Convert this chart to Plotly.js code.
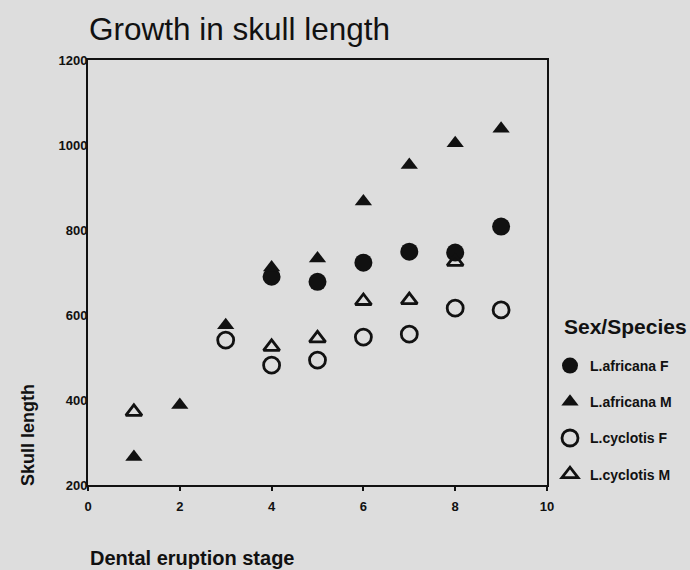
<!DOCTYPE html>
<html>
<head>
<meta charset="utf-8">
<script src="https://cdn.plot.ly/plotly-3.0.1.min.js"></script>
<style>html,body{margin:0;padding:0;background:#dddddd;}#chart{width:690px;height:570px;}</style>
</head>
<body>
<div id="chart"></div>
<script>
// Data
const seriesNames = ["L.africana F", "L.africana M", "L.cyclotis F", "L.cyclotis M"];
const legendTitle = "Sex/Species";

const africanaF_x = [4, 5, 6, 7, 8, 9];
const africanaF_y = [690, 678, 723, 749, 747, 808];

const africanaM_x = [1, 2, 3, 4, 5, 6, 7, 8, 9];
const africanaM_y = [266, 388, 576, 712, 733, 867, 953, 1004, 1038];

const cyclotisF_x = [3, 4, 5, 6, 7, 8, 9];
const cyclotisF_y = [541, 482, 494, 548, 555, 616, 612];

const cyclotisM_x = [1, 4, 5, 6, 7, 8];
const cyclotisM_y = [372, 525, 545, 633, 635, 725];

const xTicks = [0, 2, 4, 6, 8, 10];
const yTicks = [200, 400, 600, 800, 1000, 1200];

const FONT = "Liberation Sans, Arial, sans-serif";

function tr(name, x, y, symbol, size, group) {
  return {
    type: "scatter", mode: "markers", name: name, x: x, y: y,
    legendgroup: group,
    marker: { symbol: symbol, size: size, color: "#111111",
              line: { color: "#111111", width: symbol.indexOf("open") >= 0 ? 2.8 : 0 } },
    cliponaxis: false
  };
}

const data = [
  tr(seriesNames[0], africanaF_x, africanaF_y, "circle", 18, "g1"),
  tr(seriesNames[1], africanaM_x, africanaM_y, "triangle-up", 15, "g2"),
  tr(seriesNames[2], cyclotisF_x, cyclotisF_y, "circle-open", 16, "g3"),
  tr(seriesNames[3], cyclotisM_x, cyclotisM_y, "triangle-up-open", 14, "g4")
];

const layout = {
  width: 690, height: 570,
  paper_bgcolor: "#dddddd", plot_bgcolor: "#dddddd",
  margin: { l: 88, r: 143, t: 60, b: 85, autoexpand: false },
  font: { family: FONT, color: "#111111" },
  title: {
    text: "Growth in skull length",
    font: { family: FONT, size: 31.5, color: "#111111" },
    xref: "container", yref: "container",
    x: 89 / 690, xanchor: "left",
    y: 1 - 29 / 570, yanchor: "middle"
  },
  xaxis: {
    range: [0, 10], tickvals: xTicks, ticktext: xTicks.map(String),
    showgrid: false, zeroline: false,
    showline: true, linecolor: "#111111", linewidth: 2, mirror: true,
    ticks: "outside", ticklen: 4, tickwidth: 2, tickcolor: "#111111",
    ticklabelstandoff: 4,
    tickfont: { family: FONT, size: 13, color: "#111111", weight: "bold" }
  },
  yaxis: {
    range: [200, 1200], tickvals: yTicks, ticktext: yTicks.map(String),
    showgrid: false, zeroline: false,
    showline: true, linecolor: "#111111", linewidth: 2, mirror: true,
    ticks: "", ticklabelstandoff: -4,
    tickfont: { family: FONT, size: 13, color: "#111111", weight: "bold" }
  },
  legend: {
    x: (550 - 88) / 459, xanchor: "left", y: (485 - 350) / 425, yanchor: "top",
    bgcolor: "rgba(0,0,0,0)",
    font: { family: FONT, size: 14, color: "#111111", weight: "bold" },
    tracegroupgap: 15, itemwidth: 30
  },
  showlegend: true,
  annotations: [
    { text: legendTitle, xref: "paper", yref: "paper",
      x: (562 - 88) / 459, y: (485 - 326) / 425, xanchor: "left", yanchor: "middle",
      showarrow: false,
      font: { family: FONT, size: 21, color: "#111111", weight: "bold" } },
    { text: "Skull length", xref: "paper", yref: "paper",
      x: -60 / 459, y: (485 - 435) / 425, xanchor: "center", yanchor: "middle",
      textangle: -90, showarrow: false,
      font: { family: FONT, size: 18, color: "#111111", weight: "bold" } },
    { text: "Dental eruption stage", xref: "paper", yref: "paper",
      x: 0, y: -(558 - 485) / 425, xanchor: "left", yanchor: "middle",
      showarrow: false,
      font: { family: FONT, size: 20, color: "#111111", weight: "bold" } }
  ]
};

Plotly.newPlot("chart", data, layout, { displayModeBar: false, staticPlot: true });
</script>
</body>
</html>
